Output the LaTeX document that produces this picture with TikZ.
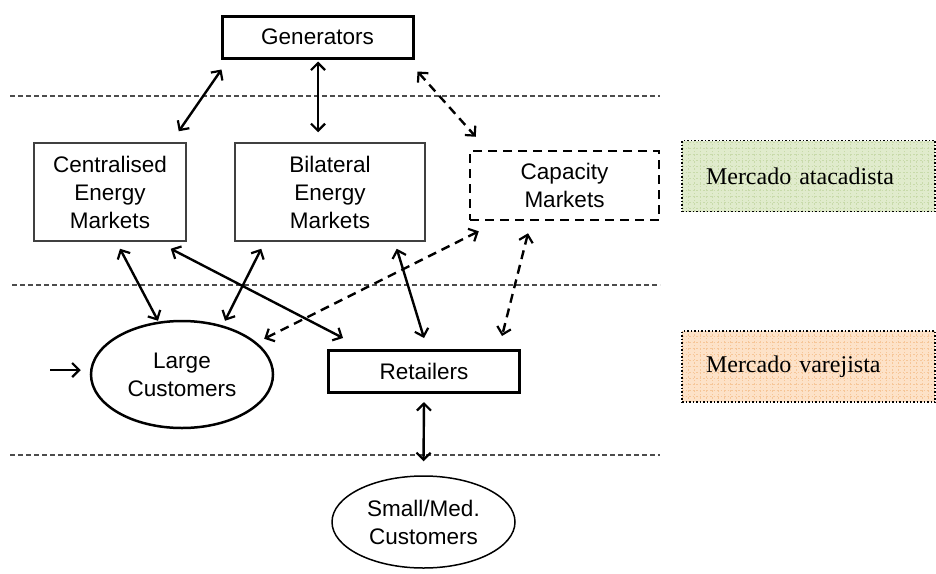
\documentclass[tikz,border=0pt]{standalone}
\usepackage{fontspec}
\setmainfont{Liberation Sans}
\newfontfamily\tnrfont{Liberation Serif}
\usetikzlibrary{positioning, arrows.meta, shapes.geometric}
\definecolor{wsfill}{RGB}{224,235,204}
\definecolor{wsgrid}{RGB}{200,218,170}
\definecolor{rtfill}{RGB}{253,226,200}
\definecolor{rtgrid}{RGB}{246,198,152}

\begin{document}
\begin{tikzpicture}[x=1pt, y=-1pt,
     >={Straight Barb[length=7pt, width=14pt, line width=2.2pt]},
   every node/.style = {font=\fontsize{22.5}{28}\selectfont, align=center, inner sep=0pt},
        box/.style = {rectangle, draw, line width=3pt, minimum width=191pt, minimum height=42pt},
       tbox/.style = {rectangle, draw=black!75, line width=1.5pt, minimum height=98pt},
       cbox/.style = {rectangle, draw, line width=2.5pt, dash pattern=on 9pt off 6pt,
                      minimum width=189pt, minimum height=69pt},
        ell/.style = {ellipse, draw, minimum width=183pt},
       lane/.style = {draw=black!70, line width=1.2pt, dash pattern=on 5pt off 3pt},
        arr/.style = {<->, line width=2.4pt},
       darr/.style = {<->, line width=2.4pt, dash pattern=on 9pt off 6pt},
       mkt/.style  = {rectangle, draw, line width=1.5pt, dotted, minimum width=253pt,
                      minimum height=71pt, text width=205pt, align=left,
                      font=\tnrfont\fontsize{24}{28}\selectfont}
                        ]
\useasboundingbox (0,0) rectangle (936,573);
% market lanes
\draw[lane] (10,96) -- (660,96);
\draw[lane] (12,285) -- (660,285);
\draw[lane] (10,455) -- (660,455);
% boxes
\node (gen) [box] at (317.5,37) {Generators};
\node (cem) [tbox, minimum width=152pt] at (110,192) {Centralised\\Energy\\Markets};
\node (bem) [tbox, minimum width=190pt] at (330,192) {Bilateral\\Energy\\Markets};
\node (cap) [cbox] at (564.5,185.5) {Capacity\\Markets};
\node (lc)  [ell, line width=2.5pt, minimum width=182pt, minimum height=107pt] at (182,374.5) {Large\\Customers};
\node (ret) [box] at (424,371.5) {Retailers};
\node (smc) [ell, line width=1.5pt, minimum height=92pt] at (423.5,522) {Small/Med.\\Customers};
\coordinate (feed) at (50,370);
% legend
\node (whole) [mkt, fill=wsfill, path picture={\draw[wsgrid, line width=0.8pt]
   (path picture bounding box.south west) grid[step=6pt] (path picture bounding box.north east);}]
   at (808.5,176) {Mercado atacadista};
\node (retail) [mkt, fill=rtfill, path picture={\draw[rtgrid, line width=0.8pt]
   (path picture bounding box.south west) grid[step=6pt] (path picture bounding box.north east);}]
   at (808.5,366.5) {Mercado varejista};
% flows
\draw[arr]  ([shift={(1,10)}]gen.south west) -- ([shift={(-8,-11)}]cem.north east);
\draw[arr]  ([shift={(0.5,2)}]gen.south) -- ([shift={(-12,-10)}]bem.north);
\draw[darr] ([shift={(3,12)}]gen.south east) -- ([shift={(7,-13)}]cap.north west);
\draw[arr]  ([shift={(10,7)}]cem.south) -- ([shift={(-24,1)}]lc.north);
\draw[arr]  ([shift={(-16,7)}]cem.south east) -- ([shift={(16,-11)}]ret.north west);
\draw[arr]  ([shift={(27,7)}]bem.south west) -- ([shift={(43,1)}]lc.north);
\draw[arr]  ([shift={(-29,7)}]bem.south east) -- ([shift={(0,-11)}]ret.north);
\draw[darr] ([shift={(10,10)}]cap.south west) -- ([shift={(17,3)}]lc.north east);
\draw[darr] ([shift={(-36.5,12)}]cap.south) -- ([shift={(-19,-13)}]ret.north east);
\draw[arr]  ([shift={(0,8)}]ret.south) -- ([shift={(0,-14)}]smc.north);
\draw[->, line width=2.4pt] (feed) -- ([shift={(-9,-4.5)}]lc.west);
\end{tikzpicture}
\end{document}
